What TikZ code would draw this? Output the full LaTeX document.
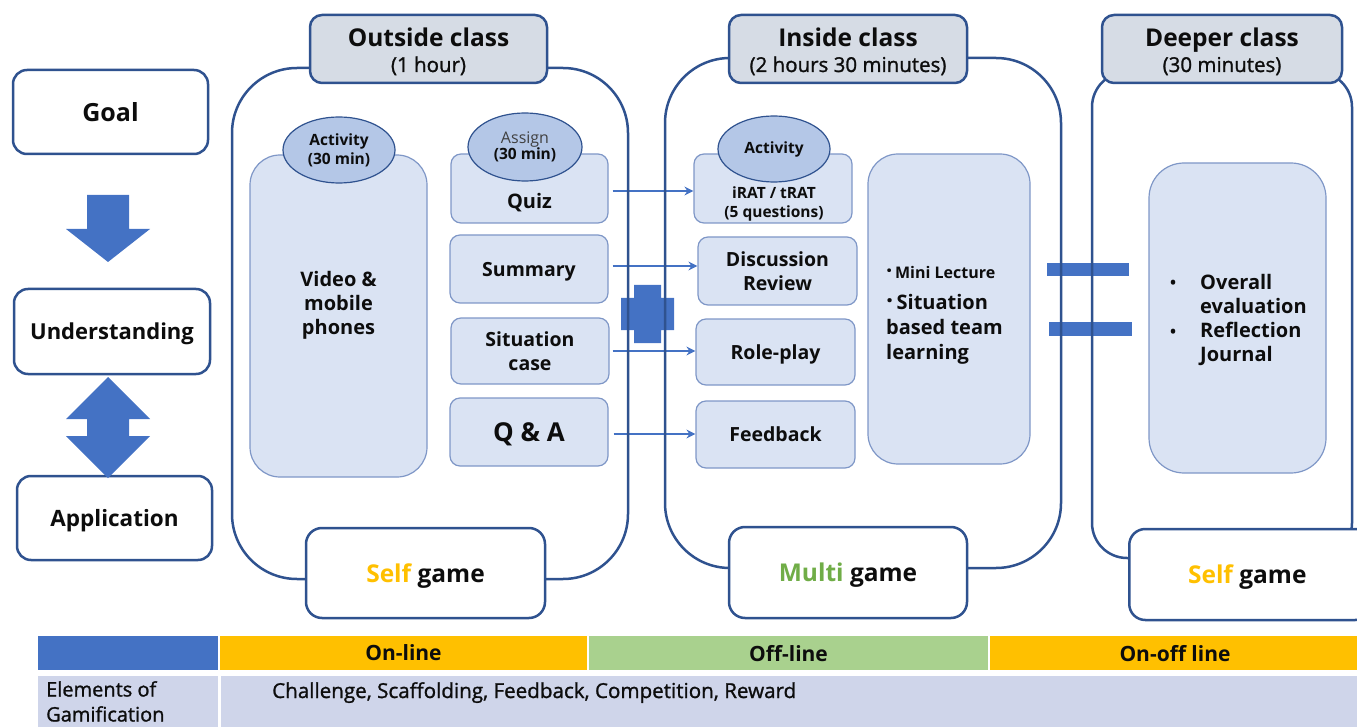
\documentclass[tikz,border=0pt]{standalone}
\usepackage{fontspec}
\setmainfont{Open Sans}
\newfontfamily\semib[FakeBold=1.2]{Open Sans}
\usetikzlibrary{arrows.meta,shapes.geometric}
\definecolor{dblue}{HTML}{2F528F}
\definecolor{accent}{HTML}{4472C4}
\definecolor{hdrfill}{HTML}{D6DCE5}
\definecolor{innerfill}{HTML}{DAE3F3}
\definecolor{innerdraw}{HTML}{7F97C7}
\definecolor{ellfill}{HTML}{B4C7E7}
\definecolor{gold}{HTML}{FFC000}
\definecolor{lgreen}{HTML}{A9D18E}
\definecolor{tgreen}{HTML}{70AD47}
\definecolor{rowfill}{HTML}{CFD5EA}
\definecolor{txt}{HTML}{0D0D0D}
\newcommand\fz[2]{\fontsize{#1}{#2}\selectfont}
\tikzset{
  bigbox/.style={draw=dblue, line width=2.5, rectangle},
  hdrbox/.style={draw=dblue, fill=hdrfill, line width=2.5, rounded corners=12, minimum height=68},
  lbox/.style={draw=dblue, fill=white, line width=2.5, rounded corners=14, text=txt, font=\fz{22}{25}\bfseries, text depth=0pt},
  gamebox/.style={draw=dblue, fill=white, line width=2.5, rounded corners=16, text=txt, font=\fz{24.5}{28}\bfseries, text depth=0pt},
  inbox/.style={draw=innerdraw, fill=innerfill, line width=1.2, rounded corners=10, text=txt, font=\fz{19.5}{24}\bfseries, align=center},
  sl/.style={text depth=0pt},
  ell/.style={ellipse, draw=dblue, fill=ellfill, line width=1.2, inner sep=0pt, text=txt, align=center},
  conn/.style={draw=accent, line width=2.2, -{Stealth[length=9,width=9]}},
  cell/.style={draw=white, line width=1.5, inner sep=0pt},
  lbl/.style={inner sep=0pt, text=txt},
}
\begin{document}
\begin{tikzpicture}[x=1pt,y=-1pt]
\useasboundingbox (0,0) rectangle (1357,727);
\clip (0,0) rectangle (1357,727);
% plus and equals symbols
\fill[accent] (634,285) -- (661,285) -- (661,298) -- (674,298) -- (674,330) -- (661,330) -- (661,343) -- (634,343) -- (634,330) -- (621,330) -- (621,298) -- (634,298) -- cycle;
\fill[accent] (1047,263) rectangle (1129,276);
\fill[accent] (1049,322) rectangle (1132,336);
% outside class contents
\node[inbox, rounded corners=30, minimum width=177, minimum height=322] (video) at (338.5,316) {};
\node[lbl, align=center, font=\fz{20}{24}\bfseries] (videot) at (338.5,305) {Video \&\\mobile\\phones};
\node[ell, minimum width=112, minimum height=66, font=\fz{15.5}{19}\bfseries] (act1) at (339,150) {Activity\\(30 min)};
\node[inbox, minimum width=157, minimum height=69] (quiz) at (529.5,188.5) {};
\node[lbl, font=\fz{20}{24}\bfseries] (quizt) at (529.5,203) {Quiz};
\node[ell, minimum width=114, minimum height=68] (assign) at (525,147) {{\fz{16}{19}\color{black!75}Assign}\\[-1pt]{\fz{15.5}{19}\bfseries(30 min)}};
\node[inbox, sl, minimum width=158, minimum height=68] (summary) at (529,269) {Summary};
\node[inbox, minimum width=158, minimum height=66] (situ) at (530,351) {Situation\\case};
\node[inbox, sl, minimum width=158, minimum height=68, font=\fz{26}{28}\bfseries] (qa) at (529,432) {Q \& A};
% inside class contents
\node[inbox, minimum width=158, minimum height=69] (irat) at (773,188.5) {};
\node[lbl, align=center, font=\fz{15.5}{19}\bfseries] (iratt) at (774,204) {iRAT / tRAT\\(5 questions)};
\node[ell, minimum width=112, minimum height=66, font=\fz{15.5}{19}\bfseries] (act2) at (774,149) {Activity};
\node[inbox, minimum width=159, minimum height=68] (disc) at (777.5,271) {Discussion\\Review};
\node[inbox, sl, minimum width=159, minimum height=66] (role) at (775.5,352) {Role-play};
\node[inbox, sl, minimum width=159, minimum height=67] (feed) at (775.5,434.5) {Feedback};
\node[inbox, rounded corners=30, minimum width=162, minimum height=310] (mini) at (949,309) {};
\node[lbl, anchor=base west, font=\fz{16}{20}\bfseries] (minit) at (886,279) {{\fz{22}{22}·}\,Mini Lecture};
\node[lbl, anchor=west, align=left, font=\fz{20}{25}\bfseries] (sitt) at (886,329) {{\fz{25}{25}·}\,Situation\\based team\\learning};
% deeper class contents
\node[inbox, rounded corners=35, minimum width=177, minimum height=310] (deepin) at (1237.5,318) {};
\node[lbl, anchor=west, align=left, font=\fz{20}{24.3}\bfseries] (deept) at (1200,320) {Overall\\evaluation\\Reflection\\Journal};
\node[lbl, anchor=base, font=\fz{16}{20}\bfseries] (bul1) at (1173,289) {•};
\node[lbl, anchor=base, font=\fz{16}{20}\bfseries] (bul2) at (1173,337) {•};
% connectors
\draw[conn] ([xshift=4]quiz.east |- 0,191) -- (irat.west |- 0,191);
\draw[conn] ([xshift=4]summary.east |- 0,266) -- (disc.west |- 0,266);
\draw[conn] ([xshift=3]situ.east) -- (situ.east -| role.west);
\draw[conn] ([xshift=5]qa.east |- 0,434) -- (feed.west |- 0,434);
% big containers
\node[bigbox, rounded corners=65, minimum width=396, minimum height=511] (outbox) at (430,323.5) {};
\node[bigbox, rounded corners=65, minimum width=396, minimum height=510] (inbox) at (863,313) {};
\node[bigbox, rounded corners=35, minimum width=260, minimum height=486] (deepbox) at (1222,315) {};
% headers
\node[hdrbox, minimum width=237] (hdrout) at (428.5,49) {};
\node[lbl, anchor=base, font=\fz{24.5}{26}\bfseries] (hdrouta) at (428.5,47) {Outside class};
\node[lbl, anchor=base, font=\fz{20.5}{22}\semib] (hdroutb) at (428.5,72) {(1 hour)};
\node[hdrbox, minimum width=238] (hdrin) at (848,49) {};
\node[lbl, anchor=base, font=\fz{24.5}{26}\bfseries] (hdrina) at (848,47) {Inside class};
\node[lbl, anchor=base, font=\fz{20.5}{22}\semib] (hdrinb) at (848,72) {(2 hours 30 minutes)};
\node[hdrbox, minimum width=240] (hdrdeep) at (1222,49) {};
\node[lbl, anchor=base, font=\fz{24.5}{26}\bfseries] (hdrdeepa) at (1222,47) {Deeper class};
\node[lbl, anchor=base, font=\fz{20.5}{22}\semib] (hdrdeepb) at (1222,72) {(30 minutes)};
% game boxes
\node[gamebox, minimum width=239, minimum height=90] (game1) at (425.5,573) {\textcolor{gold}{Self} game};
\node[gamebox, minimum width=238, minimum height=91] (game2) at (848,572.5) {\textcolor{tgreen}{Multi} game};
\node[gamebox, minimum width=242, minimum height=91, anchor=west] (game3) at (1128,574.5) {\hspace*{-2pt}\textcolor{gold}{Self} game\hspace*{4pt}};
% left column
\node[lbox, minimum width=195, minimum height=84, font=\fz{25}{28}\bfseries] (goal) at (110.5,112) {Goal};
\node[lbox, minimum width=196, minimum height=85] (under) at (112,331.5) {Understanding};
\node[lbox, minimum width=195, minimum height=84, font=\fz{22.5}{26}\bfseries] (appl) at (114.5,518) {Application};
\fill[accent] (87,195) -- (129,195) -- (129,229) -- (150,229) -- (108,262) -- (66,229) -- (87,229) -- cycle;
\fill[accent] (108,377) -- (150,419) -- (129,419) -- (129,436) -- (150,436) -- (108,478) -- (66,436) -- (87,436) -- (87,419) -- (66,419) -- cycle;
% table
\node[cell, fill=accent, minimum width=182, minimum height=36] (t00) at (128,653) {};
\node[cell, sl, fill=gold, minimum width=369, minimum height=36, font=\fz{21}{22}\bfseries, text=txt] (t01) at (403.5,653) {On-line};
\node[cell, sl, fill=lgreen, minimum width=401, minimum height=36, font=\fz{21}{22}\bfseries, text=txt] (t02) at (788.5,653) {Off-line};
\node[cell, sl, fill=gold, minimum width=372, minimum height=36, font=\fz{21}{22}\bfseries, text=txt] (t03) at (1175,653) {On-off line};
\node[cell, fill=rowfill, minimum width=182, minimum height=56] (t10) at (128,703) {};
\node[cell, fill=rowfill, minimum width=1142, minimum height=56] (t11) at (791,703) {};
\node[lbl, anchor=north west, align=left, font=\fz{20}{25}\semib] (t10t) at (46,681) {Elements of\\Gamification};
\node[lbl, anchor=base west, font=\fz{20.6}{24}\semib] (t11t) at (272,698) {Challenge, Scaffolding, Feedback, Competition, Reward};
\end{tikzpicture}
\end{document}
